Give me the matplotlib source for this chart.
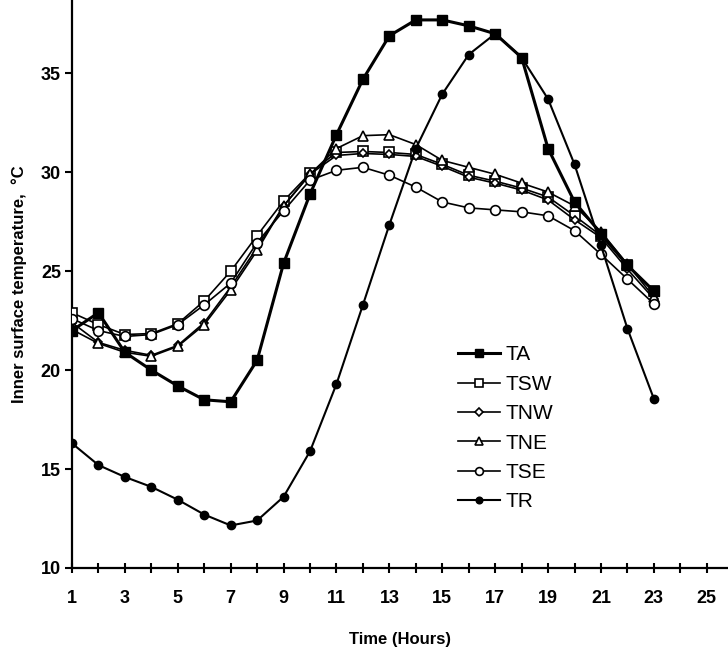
import matplotlib
matplotlib.use("Agg")
import matplotlib.pyplot as plt
import numpy as np

plt.rcParams['font.family'] = ['Liberation Sans', 'DejaVu Sans']

hours = list(range(1, 24))

TA = [22.0, 22.9, 20.9, 20.0, 19.2, 18.5, 18.4, 20.5, 25.4, 28.9, 31.9, 34.7,
      36.9, 37.7, 37.7, 37.4, 37.0, 35.8, 31.2, 28.5, 26.9, 25.3, 24.0]
TSW = [22.9, 22.3, 21.8, 21.85, 22.35, 23.5, 25.0, 26.8, 28.55, 29.95, 31.0, 31.05,
       31.0, 30.9, 30.4, 29.85, 29.55, 29.2, 28.75, 27.8, 26.8, 25.3, 24.0]
TNW = [22.4, 21.4, 21.0, 20.75, 21.25, 22.4, 24.2, 26.2, 28.3, 29.9, 30.85, 30.95,
       30.9, 30.8, 30.3, 29.75, 29.45, 29.1, 28.6, 27.6, 26.7, 25.1, 23.6]
TNE = [22.05, 21.35, 20.9, 20.7, 21.2, 22.3, 24.05, 26.05, 28.3, 29.9, 31.2, 31.85,
       31.9, 31.4, 30.6, 30.25, 29.9, 29.45, 29.0, 28.3, 27.0, 25.35, 23.7]
TSE = [22.6, 22.0, 21.7, 21.8, 22.3, 23.3, 24.4, 26.45, 28.05, 29.6, 30.1, 30.25,
       29.85, 29.25, 28.5, 28.2, 28.1, 28.0, 27.8, 27.05, 25.85, 24.6, 23.35]
TR = [16.3, 15.2, 14.6, 14.1, 13.45, 12.7, 12.15, 12.4, 13.6, 15.9, 19.3, 23.3,
      27.35, 31.2, 33.95, 35.95, 37.0, 35.8, 33.7, 30.4, 26.3, 22.1, 18.55]

xtick_vals = list(range(1, 26))
xtick_labels = [str(h) if h % 2 == 1 else '' for h in xtick_vals]
ytick_vals = [10, 15, 20, 25, 30, 35]

fig = plt.figure(figsize=(7.28, 6.58), dpi=100)
ax = fig.add_axes([0.0989, 0.1368, 0.901, 0.863])

ax.plot(hours, TA, color='black', lw=2.2, marker='s', ms=6.5,
        mfc='black', mec='black', label='TA', zorder=5)
ax.plot(hours, TSW, color='black', lw=1.2, marker='s', ms=6.5,
        mfc='white', mec='black', mew=1.2, label='TSW', zorder=4)
ax.plot(hours, TNW, color='black', lw=1.2, marker='D', ms=4.5,
        mfc='white', mec='black', mew=1.2, label='TNW', zorder=4)
ax.plot(hours, TNE, color='black', lw=1.2, marker='^', ms=7,
        mfc='white', mec='black', mew=1.2, label='TNE', zorder=4)
ax.plot(hours, TSE, color='black', lw=1.2, marker='o', ms=7,
        mfc='white', mec='black', mew=1.2, label='TSE', zorder=4)
ax.plot(hours, TR, color='black', lw=1.5, marker='o', ms=6,
        mfc='black', mec='black', label='TR', zorder=5)

ax.set_xlim(1, 25.8)
ax.set_ylim(10, 38.7)

ax.set_xticks(xtick_vals)
ax.set_xticklabels(xtick_labels)
ax.set_yticks(ytick_vals)
ax.set_yticklabels([str(v) for v in ytick_vals])

for s in ['top', 'right']:
    ax.spines[s].set_visible(False)
for s in ['left', 'bottom']:
    ax.spines[s].set_linewidth(1.6)

ax.tick_params(axis='x', direction='inout', length=7, width=1.5, pad=12,
               labelsize=13)
ax.tick_params(axis='y', direction='out', length=5, width=1.5, pad=3,
               labelsize=13)
for lab in ax.get_xticklabels() + ax.get_yticklabels():
    lab.set_fontweight('bold')

ax.set_xlabel('Time (Hours)', fontsize=12, fontweight='bold', labelpad=18)
ax.set_ylabel('Inner surface temperature,  °C', fontsize=12, fontweight='bold',
              labelpad=10)

leg = ax.legend(loc='upper left', bbox_to_anchor=(0.56, 0.425), frameon=False,
                fontsize=15, handlelength=2.0, handletextpad=0.3,
                labelspacing=0.5, markerscale=0.8)

fig.savefig('out.png', dpi=100, facecolor='white')
